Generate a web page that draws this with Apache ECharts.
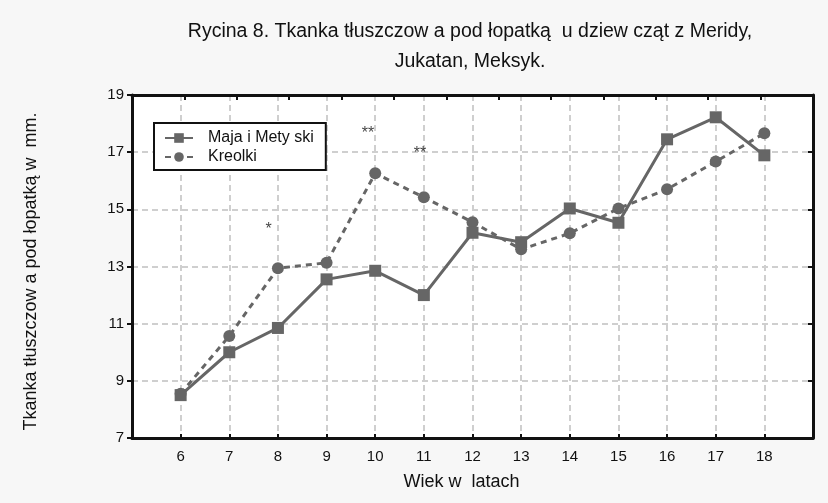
<!DOCTYPE html>
<html>
<head>
<meta charset="utf-8">
<script src="https://cdn.jsdelivr.net/npm/echarts@6/dist/echarts.min.js"></script>
<style>
  html, body { margin: 0; padding: 0; background: #f7f7f7; }
  #chart { width: 828px; height: 503px; }
</style>
</head>
<body>
<div id="chart"></div>
<script>
var wiek = [6, 7, 8, 9, 10, 11, 12, 13, 14, 15, 16, 17, 18];
var majaMetyski = [8.5, 10.0, 10.85, 12.55, 12.85, 12.0, 14.18, 13.85, 15.03, 14.53, 17.45, 18.22, 16.89];
var kreolki = [8.55, 10.57, 12.94, 13.13, 16.26, 15.42, 14.55, 13.6, 14.16, 15.03, 15.7, 16.67, 17.66];
var yTicks = [7, 9, 11, 13, 15, 17, 19];
// gwiazdki istotnosci: [x, y, tekst]
var gwiazdki = [[7.81, 14.28, '*'], [9.85, 17.65, '**'], [10.92, 16.95, '**']];

function pary(xs, ys) {
    var out = [];
    for (var i = 0; i < xs.length; i++) out.push([xs[i], ys[i]]);
    return out;
}

var font = 'Liberation Sans, Arial, sans-serif';
var szary = '#666666';
var siatka = { show: true, lineStyle: { color: '#cfcfcf', width: 2, type: [6, 4] } };
var ramka = { show: true, onZero: false, lineStyle: { color: '#111', width: 3 } };

var myChart = echarts.init(document.getElementById('chart'));
myChart.setOption({
    backgroundColor: '#f7f7f7',
    animation: false,
    textStyle: { fontFamily: font },
    title: {
        text: 'Rycina 8. Tkanka tłuszczow a pod łopatką  u dziew cząt z Meridy,\nJukatan, Meksyk.',
        left: 465,
        textAlign: 'center',
        top: 12,
        textStyle: { fontFamily: font, fontSize: 19.5, fontWeight: 'normal', color: '#111', lineHeight: 30 }
    },
    legend: {
        left: 154,
        top: 123,
        orient: 'vertical',
        backgroundColor: '#fff',
        borderColor: '#111',
        borderWidth: 2,
        borderRadius: 0,
        padding: [7, 12, 5, 10],
        itemWidth: 28,
        itemHeight: 12,
        itemGap: 3,
        textStyle: { fontFamily: font, fontSize: 16, color: '#111', padding: [0, 0, 0, 10] },
        data: ['Maja i Mety ski', 'Kreolki']
    },
    grid: {
        left: 132, right: 15, top: 95, bottom: 65,
        show: true, backgroundColor: '#fff', borderWidth: 0
    },
    xAxis: [{
        type: 'value',
        min: 5, max: 19, interval: 1,
        name: 'Wiek w  latach',
        nameLocation: 'middle',
        nameGap: 35,
        nameTextStyle: { fontFamily: font, fontSize: 18, color: '#111', padding: [0, 22, 0, 0] },
        axisLine: ramka,
        axisTick: { inside: true, length: 4, lineStyle: { color: '#111', width: 2 } },
        axisLabel: {
            color: '#111', fontSize: 15, margin: 11,
            formatter: function (v) { return (v === 5 || v === 19) ? '' : v; }
        },
        splitLine: siatka
    }, {
        type: 'value',
        position: 'top',
        min: 0, max: 13, interval: 1,
        axisLine: ramka,
        axisTick: { inside: true, length: 5, lineStyle: { color: '#111', width: 2 } },
        axisLabel: { show: false },
        splitLine: { show: false }
    }],
    yAxis: [{
        type: 'value',
        min: 7, max: 19,
        name: 'Tkanka tłuszczow a pod łopatką w  mm.',
        nameLocation: 'middle',
        nameGap: 92,
        nameTextStyle: { fontFamily: font, fontSize: 18, color: '#111', padding: [0, 10, 0, 0] },
        axisLine: ramka,
        axisTick: { show: true, length: 5, customValues: yTicks, lineStyle: { color: '#111', width: 2 } },
        axisLabel: { color: '#111', fontSize: 15, margin: 8, customValues: yTicks },
        splitLine: siatka
    }, {
        type: 'value',
        position: 'right',
        min: 7, max: 19,
        axisLine: ramka,
        axisTick: { show: true, inside: true, length: 5, customValues: yTicks, lineStyle: { color: '#111', width: 2 } },
        axisLabel: { show: false, customValues: yTicks },
        splitLine: { show: false }
    }],
    series: [{
        name: 'Maja i Mety ski',
        type: 'line',
        data: pary(wiek, majaMetyski),
        symbol: 'rect',
        symbolSize: 12,
        itemStyle: { color: szary },
        lineStyle: { color: szary, width: 3 },
        z: 3
    }, {
        name: 'Kreolki',
        type: 'line',
        data: pary(wiek, kreolki),
        symbol: 'circle',
        symbolSize: 12,
        itemStyle: { color: szary },
        lineStyle: { color: szary, width: 3, type: [6, 5] },
        z: 2
    }, {
        name: 'gwiazdki',
        type: 'scatter',
        data: gwiazdki,
        symbolSize: 0,
        silent: true,
        label: {
            show: true,
            position: 'inside',
            fontSize: 16,
            color: '#111',
            fontFamily: font,
            formatter: function (p) { return p.data[2]; }
        }
    }]
});
</script>
</body>
</html>
